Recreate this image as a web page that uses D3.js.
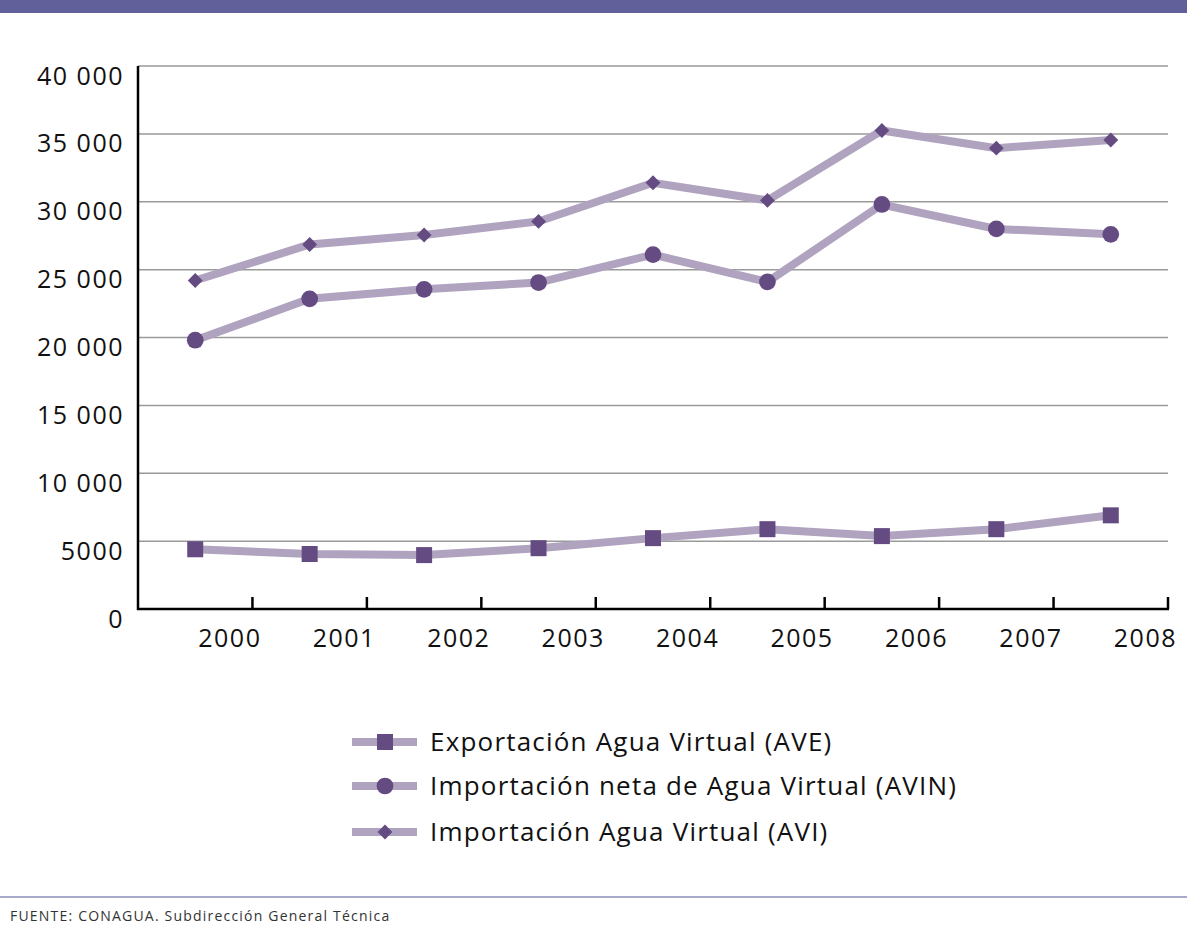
<!DOCTYPE html>
<html>
<head>
<meta charset="utf-8">
<script src="https://d3js.org/d3.v7.min.js"></script>
<style>
  body { margin: 0; background: #fff; }
  svg { display: block; font-family: "Open Sans", sans-serif; }
</style>
</head>
<body>
<svg width="1187" height="925"></svg>
<script>
const years = ['2000', '2001', '2002', '2003', '2004', '2005', '2006', '2007', '2008'];
const ave  = [4400, 4050, 3970, 4480, 5220, 5880, 5370, 5880, 6900];
const avin = [19800, 22850, 23550, 24050, 26100, 24100, 29800, 28000, 27600];
const avi  = [24200, 26850, 27550, 28550, 31400, 30100, 35250, 33950, 34550];
const seriesNames = ['Exportación Agua Virtual (AVE)', 'Importación neta de Agua Virtual (AVIN)', 'Importación Agua Virtual (AVI)'];
const yTicks = [0, 5000, 10000, 15000, 20000, 25000, 30000, 35000, 40000];
const yTickLabels = ['0', '5000', '10 000', '15 000', '20 000', '25 000', '30 000', '35 000', '40 000'];

const lineColor = '#b0a3bf', markColor = '#644b82';
const svg = d3.select('svg');

// header bar
svg.append('rect').attr('x', 0).attr('y', 0).attr('width', 1187).attr('height', 13).attr('fill', '#62609a');

const x = d3.scaleBand().domain(years).range([138, 1168]);
const y = d3.scaleLinear().domain([0, 40000]).range([609, 66]);

// gridlines
svg.append('g').selectAll('line').data(yTicks.filter(d => d > 0)).join('line')
  .attr('x1', 138).attr('x2', 1168)
  .attr('y1', d => y(d)).attr('y2', d => y(d))
  .attr('stroke', '#9a9a9a').attr('stroke-width', 1.5);

// y axis
const yAxis = svg.append('g').attr('transform', 'translate(138,0)')
  .call(d3.axisLeft(y).tickValues(yTicks).tickSize(0).tickPadding(14)
    .tickFormat((d, i) => yTickLabels[i]));
yAxis.select('.domain').remove();
yAxis.selectAll('text').attr('font-size', 25).attr('fill', '#111').attr('dy', '0.72em')
  .attr('letter-spacing', 1.5).attr('font-family', '"Open Sans", sans-serif');
svg.append('line').attr('x1', 138).attr('x2', 138).attr('y1', 66).attr('y2', 610)
  .attr('stroke', '#000').attr('stroke-width', 2.5);

// x axis
const xAxis = svg.append('g').attr('transform', 'translate(0,609)')
  .call(d3.axisBottom(x).tickSize(0).tickPadding(20));
xAxis.select('.domain').remove();
xAxis.selectAll('.tick').attr('transform', d => `translate(${x(d) + x.bandwidth() + 9},0)`);
xAxis.selectAll('text').attr('font-size', 25).attr('fill', '#111').attr('text-anchor', 'end')
  .attr('letter-spacing', 1.5).attr('font-family', '"Open Sans", sans-serif');
svg.append('line').attr('x1', 137).attr('x2', 1169).attr('y1', 609).attr('y2', 609)
  .attr('stroke', '#000').attr('stroke-width', 2.5);
svg.append('g').selectAll('line').data(years).join('line')
  .attr('x1', d => x(d) + x.bandwidth()).attr('x2', d => x(d) + x.bandwidth())
  .attr('y1', 597).attr('y2', 609).attr('stroke', '#000').attr('stroke-width', 2.5);

const cx = d => x(d) + x.bandwidth() / 2;
const line = d3.line().x((v, i) => cx(years[i])).y(v => y(v));
const allSeries = [ave, avin, avi];
const shapes = [d3.symbolSquare, d3.symbolCircle, d3.symbolSquare];
const sizes = [256, 220, 110];
const rot = [0, 0, 45];

allSeries.forEach((s, k) => {
  svg.append('path').datum(s).attr('d', line).attr('fill', 'none')
    .attr('stroke', lineColor).attr('stroke-width', 8);
});
allSeries.forEach((s, k) => {
  svg.append('g').selectAll('path').data(s).join('path')
    .attr('transform', (v, i) => `translate(${cx(years[i])},${y(v)}) rotate(${rot[k]})`)
    .attr('d', d3.symbol().type(shapes[k]).size(sizes[k]))
    .attr('fill', markColor);
});

// legend
const legendY = [742, 786, 832];
const lg = svg.append('g');
seriesNames.forEach((name, k) => {
  const g = lg.append('g').attr('transform', `translate(0,${legendY[k]})`);
  g.append('line').attr('x1', 352).attr('x2', 417).attr('y1', 0).attr('y2', 0)
    .attr('stroke', lineColor).attr('stroke-width', 8);
  g.append('path').attr('transform', `translate(385,0) rotate(${rot[k]})`)
    .attr('d', d3.symbol().type(shapes[k]).size(sizes[k])).attr('fill', markColor);
  g.append('text').attr('x', 430).attr('y', 9).attr('font-size', 26).attr('letter-spacing', 1.2)
    .attr('fill', '#111').text(name);
});

// footer
svg.append('line').attr('x1', 0).attr('x2', 1187).attr('y1', 897).attr('y2', 897)
  .attr('stroke', '#8c8cb8').attr('stroke-width', 1.5);
svg.append('text').attr('x', 10).attr('y', 921).attr('font-size', 14).attr('letter-spacing', 1.2)
  .attr('fill', '#333').text('FUENTE: CONAGUA. Subdirección General Técnica');
</script>
</body>
</html>
